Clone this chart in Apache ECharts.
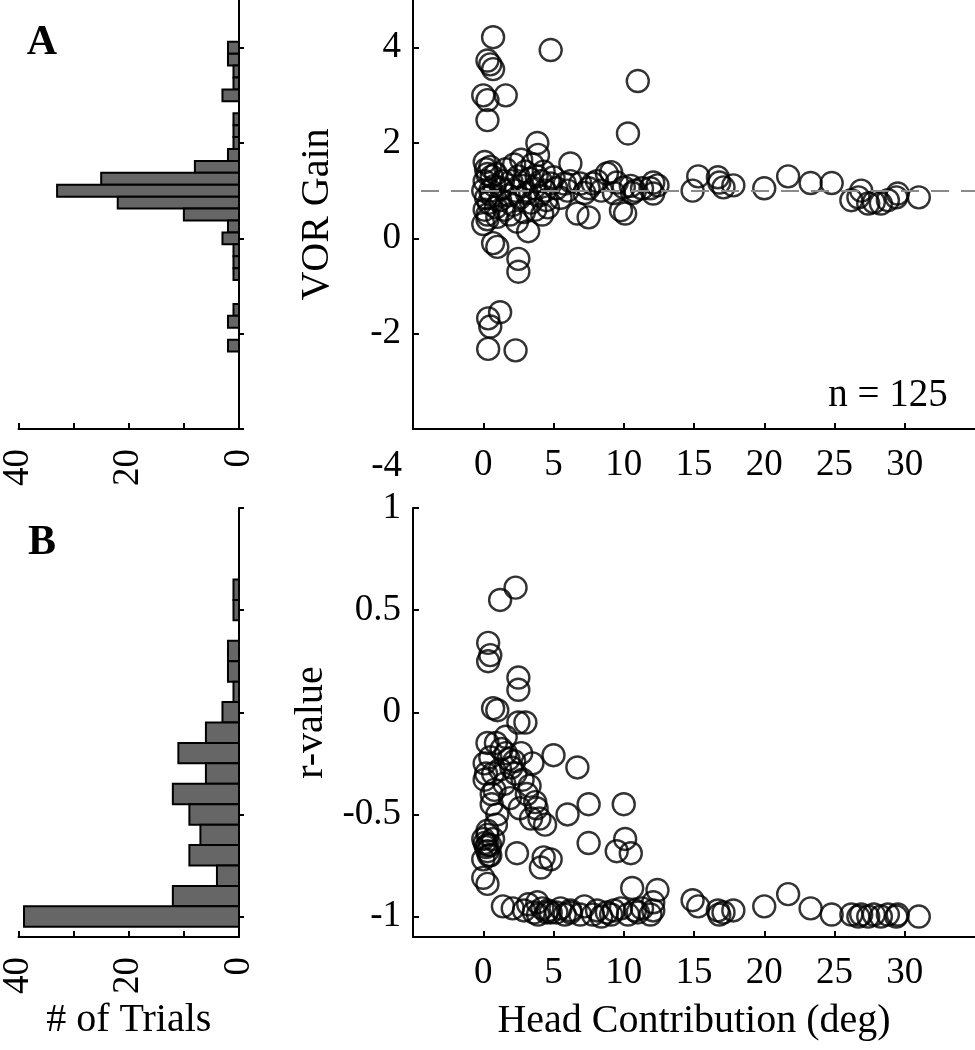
<!DOCTYPE html>
<html><head><meta charset="utf-8">
<script src="https://cdn.jsdelivr.net/npm/echarts@6/dist/echarts.min.js"></script>
<style>html,body{margin:0;padding:0;background:#fff}#c{width:975px;height:1050px}</style>
</head><body><div id="c"></div>
<script>
// ---- data ----
const headContribution = [
 11.9,12.1,12.4,12.1,14.9,15.3,16.7,16.8,17.1,17.8,20.0,21.7,23.3,24.8,26.2,26.7,26.9,27.4,27.8,28.3,28.8,29.4,29.5,31.0,
 4.6,5.0,5.2,5.5,5.8,6.0,6.2,6.2,6.7,6.9,7.2,7.5,7.5,7.8,8.1,8.4,8.8,9.1,9.3,9.5,9.8,10.0,10.1,10.3,10.5,10.6,10.8,11.0,11.3,4.8,
 0.7,0.3,0.5,0.7,0.0,0.3,1.6,0.3,3.85,0.7,1.0,2.5,2.5,1.2,0.35,0.5,0.35,2.3,
 0.1,0.2,0.3,0.5,0.1,0.6,0.0,0.2,0.4,0.1,0.3,0.0,0.3,0.6,0.8,0.9,1.0,1.2,1.3,1.5,
 1.6,1.8,1.9,2.0,2.1,2.2,2.3,2.4,2.5,2.6,2.7,2.8,2.9,3.0,3.1,3.2,3.3,3.4,3.5,3.6,
 3.7,3.8,3.9,4.0,4.1,4.2,4.3,4.4,4.5,1.4,0.9,4.8,0.5
];
const vorGain = [
 1.05,1.17,1.11,0.94,1.00,1.30,1.28,1.17,1.07,1.11,1.05,1.30,1.16,1.16,0.80,0.86,1.00,0.73,0.76,0.73,0.80,0.86,0.94,0.86,
 0.65,1.28,1.05,0.85,1.15,1.00,1.57,1.20,0.52,1.15,0.95,0.44,1.05,1.15,1.20,1.00,1.36,1.39,0.95,1.17,0.59,1.07,0.52,2.20,1.10,0.95,1.00,3.30,1.05,3.95,
 4.22,3.73,3.65,3.55,3.00,2.90,3.00,2.48,2.00,-0.10,-0.18,-0.43,-0.70,-1.55,-1.68,-1.85,-2.32,-2.35,
 1.60,1.45,1.35,1.50,1.20,1.30,1.00,0.85,0.75,0.60,0.50,0.30,0.40,0.90,1.10,0.65,0.45,0.80,1.05,0.60,
 1.45,0.90,0.50,1.20,0.70,1.55,1.00,0.35,1.30,0.85,1.65,1.10,0.55,1.40,0.95,0.15,1.25,0.75,1.55,1.05,
 0.60,1.30,1.75,0.90,1.20,0.50,1.40,1.00,0.80,1.20,1.35,1.15,1.00
];
const rValue = [
 -0.99,-0.93,-0.87,-0.97,-0.92,-0.95,-0.97,-0.99,-0.98,-0.97,-0.95,-0.89,-0.96,-0.99,-0.99,-1.00,-0.99,-1.00,-0.99,-1.00,-0.99,-1.00,-0.99,-1.00,
 -0.97,-0.21,-0.98,-0.96,-0.99,-0.50,-0.98,-0.97,-0.27,-0.99,-0.95,-0.45,-0.64,-0.99,-0.97,-1.00,-0.98,-0.99,-0.97,-0.68,-0.96,-0.45,-0.62,-0.99,-0.69,-0.86,-0.97,-0.98,-0.96,-0.98,
 -0.30,-0.65,-0.70,-0.62,-0.72,-0.60,-0.20,-0.68,-0.93,0.02,0.01,0.17,0.11,0.55,0.34,0.28,0.25,0.61,
 -0.25,-0.30,-0.15,-0.22,-0.33,-0.40,-0.62,-0.66,-0.70,-0.64,-0.58,-0.81,-0.84,-0.45,-0.38,-0.55,-0.50,-0.28,-0.18,-0.35,
 -0.12,-0.23,-0.42,-0.27,-0.96,-0.24,-0.30,-0.69,-0.05,-0.47,-0.20,-0.33,-0.97,-0.05,-0.40,-0.94,-0.36,-0.52,-0.25,-0.98,
 -0.44,-0.47,-0.99,-0.52,-0.76,-0.96,-0.71,-0.55,-0.98,-0.95,-0.15,-0.72,-0.65
];
const gainBinCenters = [4.0,3.75,3.5,3.25,3.0,2.5,2.25,2.0,1.75,1.5,1.25,1.0,0.75,0.5,0.25,0.0,-0.25,-0.5,-0.75,-1.5,-1.75,-2.25];
const gainBinCounts  = [2,2,1,1,3,1,1,1,2,8,25,33,22,10,2,3,1,1,1,1,2,2];
const rBinCenters = [0.6,0.5,0.3,0.2,0.1,0.0,-0.1,-0.2,-0.3,-0.4,-0.5,-0.6,-0.7,-0.8,-0.9,-1.0];
const rBinCounts  = [1,1,2,2,1,3,6,11,6,12,9,7,9,4,12,39];
const gainBinWidth = 0.25;
const rBinWidth = 0.1;
const gainTicks = [-4,-2,0,2,4];
const rTicks = [-1,-0.5,0,0.5,1];
const headTicks = [0,5,10,15,20,25,30];
const countTicks = [0,10,20,30,40];
const countLabels = [0,20,40];
const refGain = 1;
const nText = 'n = 125';
const panelLetters = ['A','B'];

// ---- chart ----
const FONT = '"Liberation Serif", "Times New Roman", serif';
const LBL = {fontFamily: FONT, fontSize: 37, color: '#000'};
const NAME = {fontFamily: FONT, fontSize: 40, color: '#000'};
const AXL = {show: true, onZero: false, lineStyle: {color: '#000', width: 2}};

function histX(grid, name) {
  return {
    type: 'value', gridIndex: grid, min: 0, max: 40, inverse: true, interval: 10,
    axisLine: AXL, splitLine: {show: false},
    axisTick: {show: true, inside: true, length: 6, lineStyle: {color: '#000', width: 2}, customValues: countTicks},
    axisLabel: Object.assign({rotate: 90, margin: 20, customValues: countLabels}, LBL),
    name: name || '', nameLocation: 'middle', nameGap: 63, nameTextStyle: NAME
  };
}
function scatX(grid, name) {
  return {
    type: 'value', gridIndex: grid, min: -5, max: 35, interval: 5,
    axisLine: AXL, splitLine: {show: false},
    axisTick: {show: true, inside: true, length: 6, lineStyle: {color: '#000', width: 2}, customValues: headTicks},
    axisLabel: Object.assign({margin: 18, customValues: headTicks}, LBL),
    name: name || '', nameLocation: 'middle', nameGap: 64, nameTextStyle: NAME
  };
}
function histY(grid, min, max, ticks) {
  return {
    type: 'value', gridIndex: grid, min: min, max: max, position: 'right',
    axisLine: AXL, splitLine: {show: false},
    axisTick: {show: true, inside: false, length: 5, lineStyle: {color: '#000', width: 2}, customValues: ticks},
    axisLabel: {show: false}
  };
}
function scatY(grid, min, max, ticks, name, fmt) {
  return {
    type: 'value', gridIndex: grid, min: min, max: max, position: 'left',
    axisLine: AXL, splitLine: {show: false},
    axisTick: {show: true, inside: true, length: 6, lineStyle: {color: '#000', width: 2}, customValues: ticks},
    axisLabel: Object.assign({margin: 12, customValues: ticks, formatter: fmt}, LBL),
    name: name, nameLocation: 'middle', nameGap: 76, nameTextStyle: NAME
  };
}
function histSeries(xi, yi, centers, counts, w) {
  return {
    type: 'custom', xAxisIndex: xi, yAxisIndex: yi, clip: false, silent: true,
    data: centers.map((c, i) => [counts[i], c]),
    encode: {x: 0, y: 1},
    renderItem: function (params, api) {
      const cnt = api.value(0), c = api.value(1);
      const a = api.coord([0, c - w / 2]);
      const b = api.coord([cnt, c + w / 2]);
      return {
        type: 'rect',
        shape: {x: Math.min(a[0], b[0]), y: Math.min(a[1], b[1]), width: Math.abs(b[0] - a[0]), height: Math.abs(b[1] - a[1])},
        style: {fill: '#666666', stroke: '#000', lineWidth: 2}
      };
    }
  };
}
const circleStyle = {color: 'rgba(0,0,0,0)', borderColor: '#000', borderWidth: 2.4};
const lowestGainLabel = String(gainTicks[0]);

const option = {
  animation: false,
  textStyle: {fontFamily: FONT},
  grid: [
    {left: 7, top: 0, width: 232, height: 429},
    {left: 413, top: 0, width: 562, height: 429},
    {left: 7, top: 508, width: 232, height: 429},
    {left: 413, top: 508, width: 562, height: 429}
  ],
  xAxis: [histX(0), scatX(1), histX(2, '# of Trials'), scatX(3, 'Head Contribution (deg)')],
  yAxis: [
    histY(0, -4, 5, gainTicks),
    scatY(1, -4, 5, gainTicks, 'VOR Gain', v => (v === gainTicks[0] ? '' : String(v))),
    histY(2, -1.1, 1, rTicks),
    scatY(3, -1.1, 1, rTicks, 'r-value', v => String(v))
  ],
  series: [
    histSeries(0, 0, gainBinCenters, gainBinCounts, gainBinWidth),
    histSeries(2, 2, rBinCenters, rBinCounts, rBinWidth),
    {
      type: 'scatter', xAxisIndex: 1, yAxisIndex: 1, symbol: 'circle', symbolSize: 22,
      itemStyle: circleStyle, silent: true,
      data: headContribution.map((h, i) => [h, vorGain[i]]),
      markLine: {
        silent: true, symbol: ['none', 'none'], label: {show: false},
        lineStyle: {type: [18, 12], dashOffset: -8, color: '#8a8a8a', width: 2},
        data: [{yAxis: refGain}]
      }
    },
    {
      type: 'scatter', xAxisIndex: 3, yAxisIndex: 3, symbol: 'circle', symbolSize: 22,
      itemStyle: circleStyle, silent: true,
      data: headContribution.map((h, i) => [h, rValue[i]])
    }
  ],
  graphic: [
    {type: 'text', x: 42, y: 43, style: {text: panelLetters[0], font: 'bold 42px "Liberation Serif"', fill: '#000', align: 'center', verticalAlign: 'middle', textAlign: 'center', textVerticalAlign: 'middle'}},
    {type: 'text', x: 42, y: 543, style: {text: panelLetters[1], font: 'bold 42px "Liberation Serif"', fill: '#000', align: 'center', verticalAlign: 'middle', textAlign: 'center', textVerticalAlign: 'middle'}},
    {type: 'text', x: 888, y: 396, style: {text: nText, font: '39px "Liberation Serif"', fill: '#000', align: 'center', verticalAlign: 'middle', textAlign: 'center', textVerticalAlign: 'middle'}},
    {type: 'text', x: 402, y: 466, style: {text: lowestGainLabel, font: '37px "Liberation Serif"', fill: '#000', align: 'right', verticalAlign: 'middle', textAlign: 'right', textVerticalAlign: 'middle'}}
  ]
};
const chart = echarts.init(document.getElementById('c'), null, {renderer: 'canvas'});
chart.setOption(option);
</script>
</body></html>
